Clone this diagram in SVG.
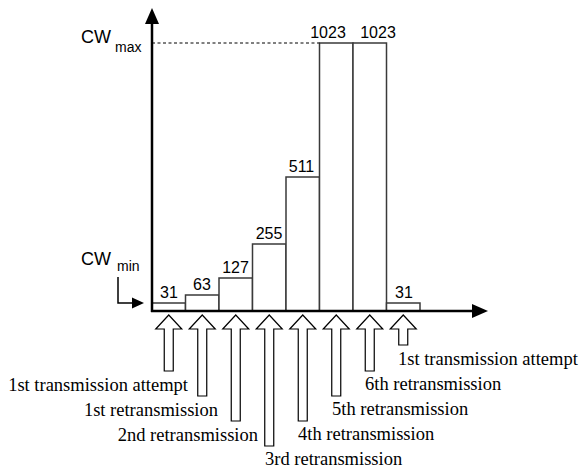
<svg xmlns="http://www.w3.org/2000/svg" width="580" height="468" viewBox="0 0 580 468">
<style>
.bar{fill:#fff;stroke:#3a3a3a;stroke-width:1.5}
.num{font-family:"Liberation Sans",Arial,sans-serif;font-size:16px;fill:#000;text-anchor:middle}
.cw{font-family:"Liberation Sans",Arial,sans-serif;font-size:18px;fill:#000}
.sub{font-family:"Liberation Sans",Arial,sans-serif;font-size:14px;fill:#000}
.lbl{font-family:"Liberation Serif","Times New Roman",serif;font-size:18.5px;fill:#000}
.blk{fill:#fff;stroke:#000;stroke-width:1.2}
.axis{stroke:#000;stroke-width:2.5;fill:none}
</style>
<rect width="580" height="468" fill="#fff"/>
<g id="bars">
<rect class="bar" x="152" y="303" width="33.5" height="8"/>
<rect class="bar" x="185.5" y="295" width="33.5" height="16"/>
<rect class="bar" x="219" y="278" width="33.5" height="33"/>
<rect class="bar" x="252.5" y="244" width="33.5" height="67"/>
<rect class="bar" x="286" y="177" width="33.5" height="134"/>
<rect class="bar" x="319.5" y="43" width="33.5" height="268"/>
<rect class="bar" x="353" y="43" width="33.5" height="268"/>
<rect class="bar" x="386.5" y="303" width="33.5" height="8"/>
</g>
<g id="values">
<text class="num" x="169" y="298">31</text>
<text class="num" x="202" y="290">63</text>
<text class="num" x="235.5" y="273">127</text>
<text class="num" x="269" y="239">255</text>
<text class="num" x="301.5" y="172">511</text>
<text class="num" x="328" y="38">1023</text>
<text class="num" x="378" y="38">1023</text>
<text class="num" x="404" y="298">31</text>
</g>
<g id="connectors">
<line x1="152" y1="43" x2="319.5" y2="43" stroke="#000" stroke-width="1" stroke-dasharray="3,2.5"/>
<line class="axis" x1="152" y1="312" x2="152" y2="22"/>
<polygon points="152,8 145,24 159,24" fill="#000"/>
<line class="axis" x1="151" y1="311" x2="476" y2="311"/>
<polygon points="488,311 472,304 472,318" fill="#000"/>
<polyline points="118,277 118,303 134,303" fill="none" stroke="#000" stroke-width="1.5"/>
<polygon points="144,303 132,297.5 132,308.5" fill="#000"/>
</g>
<g id="cwmax">
<text class="cw" x="81" y="43">CW</text>
<text class="sub" x="115" y="52">max</text>
</g>
<g id="cwmin">
<text class="cw" x="81" y="265">CW</text>
<text class="sub" x="117" y="271">min</text>
</g>
<g id="arrows">
<polygon class="blk" points="168.75,315 181.75,329 173.25,329 173.25,371 164.25,371 164.25,329 155.75,329"/>
<polygon class="blk" points="202.25,315 215.25,329 206.75,329 206.75,396 197.75,396 197.75,329 189.25,329"/>
<polygon class="blk" points="235.75,315 248.75,329 240.25,329 240.25,421 231.25,421 231.25,329 222.75,329"/>
<polygon class="blk" points="269.25,315 282.25,329 273.75,329 273.75,446 264.75,446 264.75,329 256.25,329"/>
<polygon class="blk" points="302.75,315 315.75,329 307.25,329 307.25,421 298.25,421 298.25,329 289.75,329"/>
<polygon class="blk" points="336.25,315 349.25,329 340.75,329 340.75,396 331.75,396 331.75,329 323.25,329"/>
<polygon class="blk" points="369.75,315 382.75,329 374.25,329 374.25,371 365.25,371 365.25,329 356.75,329"/>
<polygon class="blk" points="403.25,315 416.25,329 407.75,329 407.75,345 398.75,345 398.75,329 390.25,329"/>
</g>
<g id="labels">
<text class="lbl" x="188" y="391" text-anchor="end">1st transmission attempt</text>
<text class="lbl" x="218" y="416" text-anchor="end">1st retransmission</text>
<text class="lbl" x="258" y="441" text-anchor="end">2nd retransmission</text>
<text class="lbl" x="265" y="465">3rd retransmission</text>
<text class="lbl" x="298" y="440">4th retransmission</text>
<text class="lbl" x="332" y="415">5th retransmission</text>
<text class="lbl" x="365" y="390">6th retransmission</text>
<text class="lbl" x="398" y="365">1st transmission attempt</text>
</g>
</svg>
